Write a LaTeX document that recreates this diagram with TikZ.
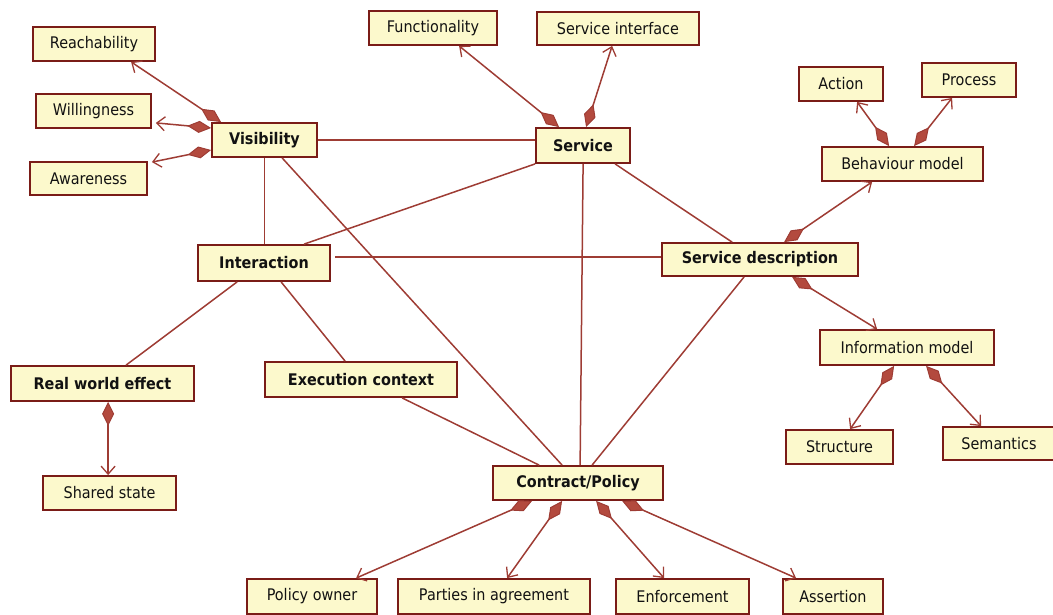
\documentclass[tikz,border=0pt]{standalone}
\usepackage{fontspec}
\setmainfont{DejaVu Sans}[FakeStretch=0.9]
\usetikzlibrary{arrows.meta,calc}

\definecolor{boxfill}{HTML}{FCF9CC}
\definecolor{boxline}{HTML}{7A1C17}
\definecolor{linkcol}{HTML}{9E3C34}
\definecolor{diafill}{HTML}{B34A3E}
\definecolor{txt}{HTML}{121212}

\tikzset{
  concept/.style={draw=boxline, fill=boxfill, line width=1.8pt, inner sep=0pt,
    text=txt, font=\fontsize{16}{18}\selectfont},
  keyconcept/.style={concept, font=\fontsize{16}{18}\selectfont\bfseries},
  link/.style={draw=linkcol, line width=1.5pt},
  part/.style={link, arrows={Diamond[length=24pt,width=12pt,fill=diafill,line width=1pt]-Straight Barb[length=8pt,width=14pt,line width=1.3pt]}}
}

% box of given width/height centred at a point
\newcommand{\cbox}[6]{\node[#1, minimum width=#4, minimum height=#5] (#2) at #3 {#6};}

\begin{document}
\begin{tikzpicture}[x=1pt,y=-1pt]
\useasboundingbox (0,0) rectangle (1053,614);

% concepts
\cbox{concept}{reach}{(94,44)}{122pt}{34pt}{Reachability}
\cbox{concept}{will}{(93.5,111)}{115pt}{34pt}{Willingness}
\cbox{concept}{aware}{(88.5,178.5)}{117pt}{33pt}{Awareness}
\cbox{keyconcept}{vis}{(264.5,140)}{105pt}{34pt}{Visibility}
\cbox{concept}{func}{(433,28)}{128pt}{34pt}{Functionality}
\cbox{concept}{sint}{(618,28.5)}{162pt}{33pt}{Service interface}
\cbox{keyconcept}{serv}{(583,145.5)}{94pt}{35pt}{Service}
\cbox{concept}{action}{(841,84)}{84pt}{34pt}{Action}
\cbox{concept}{process}{(969,80)}{94pt}{34pt}{Process}
\cbox{concept}{bm}{(902.5,164)}{161pt}{34pt}{Behaviour model}
\cbox{keyconcept}{inter}{(264,263)}{132pt}{36pt}{Interaction}
\cbox{keyconcept}{sd}{(760,259.5)}{196pt}{33pt}{Service description}
\cbox{concept}{im}{(907,347.5)}{174pt}{35pt}{Information model}
\cbox{keyconcept}{rwe}{(102.5,383.5)}{183pt}{35pt}{Real world effect}
\cbox{keyconcept}{ec}{(361,379.5)}{192pt}{35pt}{Execution context}
\cbox{concept}{shared}{(109.5,493)}{133pt}{34pt}{Shared state}
\cbox{concept}{struct}{(839.5,447)}{107pt}{34pt}{Structure}
\cbox{concept}{sem}{(999,443.5)}{112pt}{33pt}{Semantics}
\cbox{keyconcept}{cp}{(578,483)}{170pt}{34pt}{Contract/Policy}
\cbox{concept}{powner}{(312,596.5)}{130pt}{35pt}{Policy owner}
\cbox{concept}{parties}{(494,596.5)}{192pt}{35pt}{Parties in agreement}
\cbox{concept}{enf}{(682.5,596.5)}{133pt}{35pt}{Enforcement}
\cbox{concept}{assert}{(833,596.5)}{100pt}{35pt}{Assertion}

% plain associations
\draw[link] (vis.east) -- (vis.east -| serv.west);
\draw[link] (vis.south) -- (vis.south |- inter.north);
\draw[link] ($(vis.south west)+(71,0)$) -- ($(cp.north west)+(70,0)$);
\draw[link] (serv.south west) -- ($(inter.north west)+(107,0)$);
\draw[link] ($(serv.south west)+(48,0)$) -- ($(cp.north west)+(88,0)$);
\draw[link] ($(serv.south west)+(80,0)$) -- ($(sd.north west)+(71,0)$);
\coordinate (ilink) at ($(inter.east)+(4,-6)$);
\draw[link] (ilink) -- (ilink -| sd.west);
\draw[link] ($(inter.south west)+(40,0)$) -- ($(rwe.north west)+(116,0)$);
\draw[link] ($(inter.south west)+(84,0)$) -- ($(ec.north west)+(81,0)$);
\draw[link] ($(ec.south west)+(138,0)$) -- ($(cp.north west)+(47,0)$);
\draw[link] ($(sd.south west)+(83,0)$) -- ($(cp.north west)+(100,0)$);

% compositions
\draw[part] ($(vis.north west)+(10,0)$) -- ($(reach.south west)+(99,0)$);
\draw[part] ($(vis.west)+(0,-12)$) -- ($(will.south east)+(4,-6)$);
\draw[part] ($(vis.west)+(0,10)$) -- ($(aware.north east)+(4,1)$);
\draw[part] ($(serv.north west)+(24,0)$) -- ($(func.south west)+(91,0)$);
\draw[part] ($(serv.north west)+(51,0)$) -- ($(sint.south west)+(76,0)$);
\draw[part] ($(bm.north west)+(68,0)$) -- ($(action.south west)+(59,0)$);
\draw[part] ($(bm.north west)+(93,0)$) -- ($(process.south west)+(31,0)$);
\draw[part] ($(sd.north west)+(123,0)$) -- ($(bm.south west)+(51,0)$);
\draw[part] ($(sd.south west)+(131,0)$) -- ($(im.north west)+(58,0)$);
\draw[part] ($(im.south west)+(75,0)$) -- ($(struct.north west)+(65,0)$);
\draw[part] ($(im.south west)+(107,0)$) -- ($(sem.north west)+(39,0)$);
\draw[part] ($(rwe.south west)+(98,0)$) -- ($(shared.north west)+(66,0)$);
\draw[part] ($(cp.south west)+(40,0)$) -- ($(powner.north west)+(110,0)$);
\draw[part] ($(cp.south west)+(70,0)$) -- ($(parties.north west)+(110,0)$);
\draw[part] ($(cp.south west)+(104,0)$) -- ($(enf.north west)+(49,0)$);
\draw[part] ($(cp.south west)+(130,0)$) -- ($(assert.north west)+(14,0)$);
\end{tikzpicture}
\end{document}
